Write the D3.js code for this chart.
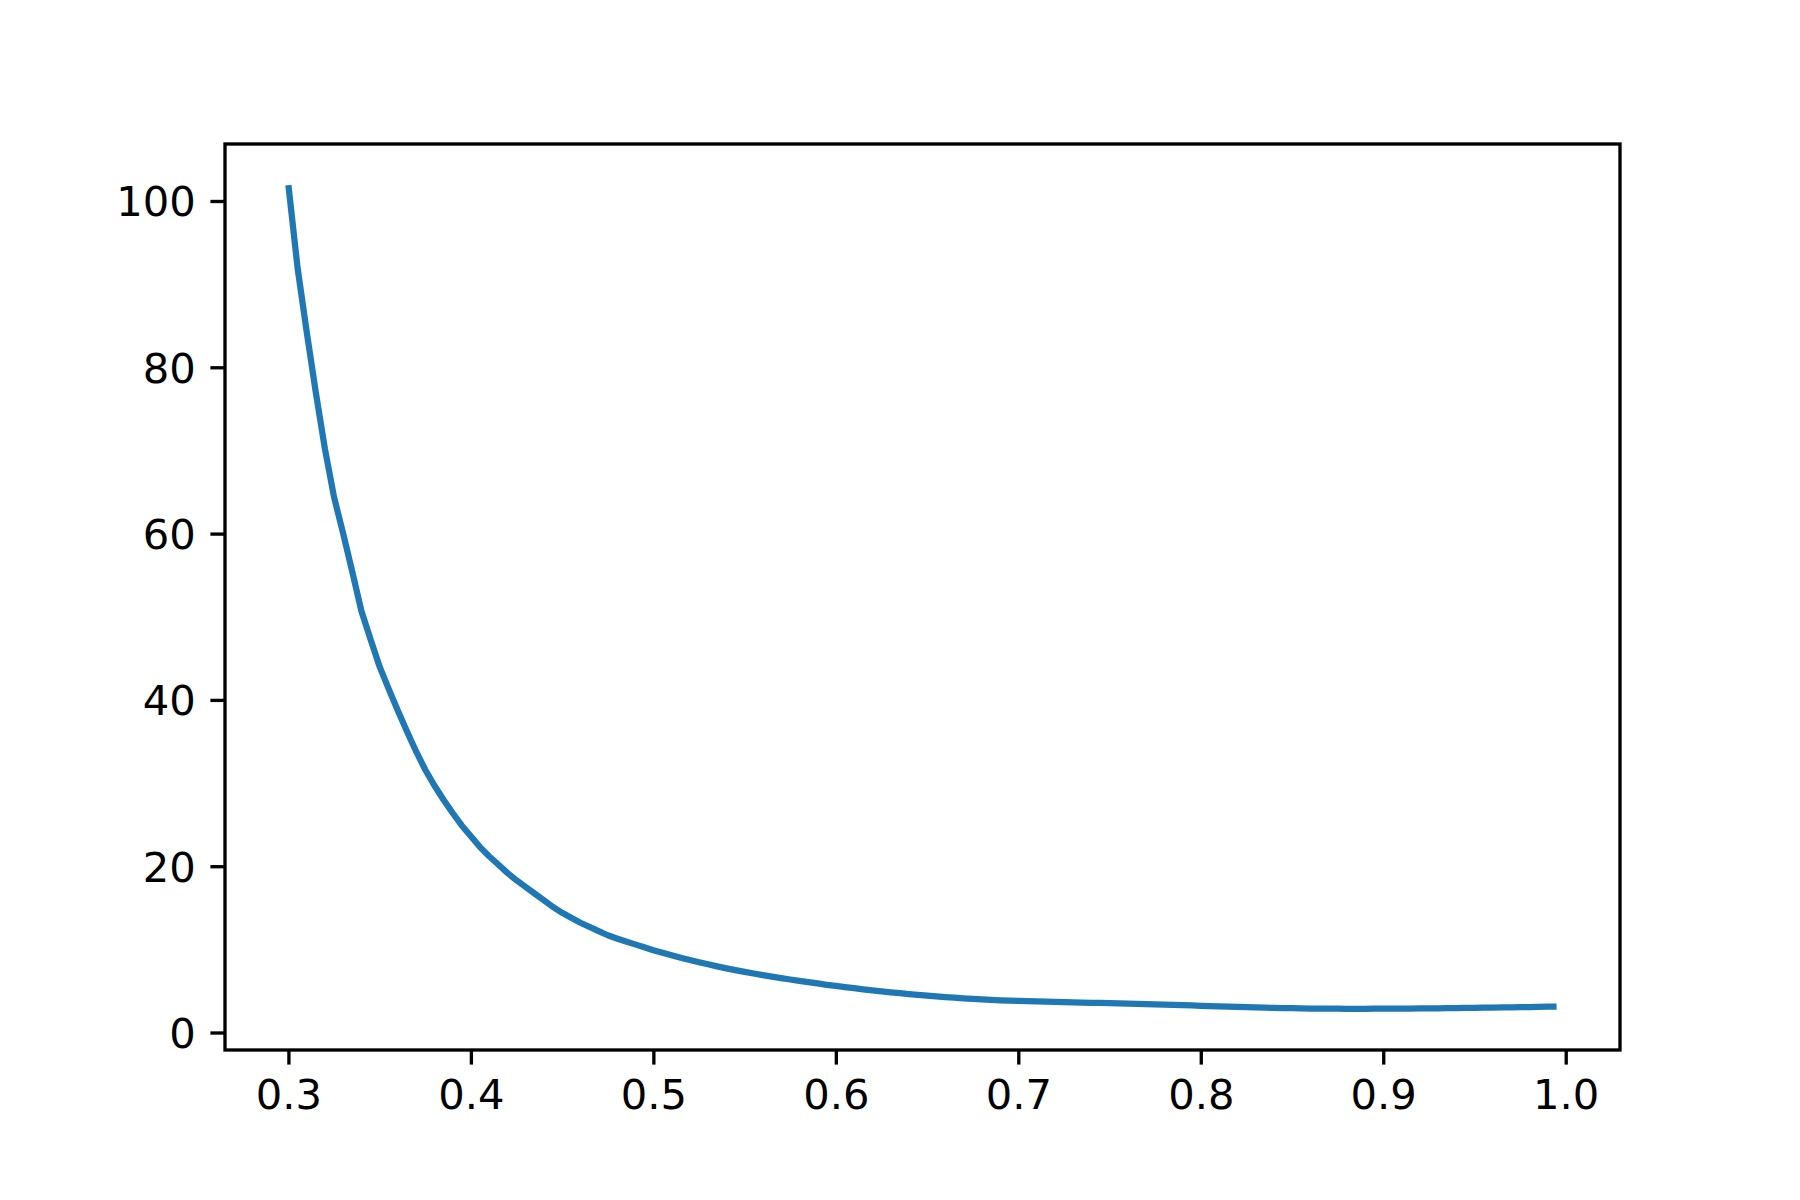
<!DOCTYPE html>
<html>
<head>
<meta charset="utf-8">
<script src="https://d3js.org/d3.v7.min.js"></script>
<style>
  html, body { margin: 0; padding: 0; background: #fff; }
  svg { display: block; }
  text { font-family: "DejaVu Sans", sans-serif; }
</style>
</head>
<body>
<svg id="chart" width="1800" height="1200"></svg>
<script>
const xValues = [
  0.300,0.305,0.310,0.315,0.320,0.325,0.330,0.335,0.340,0.345,
  0.350,0.355,0.360,0.365,0.370,0.375,0.380,0.385,0.390,0.395,
  0.400,0.405,0.410,0.415,0.420,0.425,0.430,0.435,0.440,0.445,
  0.450,0.455,0.460,0.465,0.470,0.475,0.480,0.485,0.490,0.495,
  0.500,0.505,0.510,0.515,0.520,0.525,0.530,0.535,0.540,0.545,
  0.550,0.555,0.560,0.565,0.570,0.575,0.580,0.585,0.590,0.595,
  0.600,0.605,0.610,0.615,0.620,0.625,0.630,0.635,0.640,0.645,
  0.650,0.655,0.660,0.665,0.670,0.675,0.680,0.685,0.690,0.695,
  0.700,0.705,0.710,0.715,0.720,0.725,0.730,0.735,0.740,0.745,
  0.750,0.755,0.760,0.765,0.770,0.775,0.780,0.785,0.790,0.795,
  0.800,0.805,0.810,0.815,0.820,0.825,0.830,0.835,0.840,0.845,
  0.850,0.855,0.860,0.865,0.870,0.875,0.880,0.885,0.890,0.895,
  0.900,0.905,0.910,0.915,0.920,0.925,0.930,0.935,0.940,0.945,
  0.950,0.955,0.960,0.965,0.970,0.975,0.980,0.985,0.990,0.995
];
const yValues = [
  101.9,92.0,84.3,77.0,70.2,64.4,60.0,55.4,50.7,47.3,
  44.0,41.3,38.7,36.2,33.8,31.6,29.7,28.0,26.4,24.9,
  23.6,22.3,21.2,20.2,19.2,18.3,17.5,16.7,15.9,15.1,
  14.4,13.8,13.2,12.7,12.2,11.7,11.3,10.95,10.6,10.25,
  9.9,9.6,9.3,9.0,8.72,8.46,8.2,7.95,7.72,7.5,
  7.3,7.1,6.9,6.72,6.55,6.38,6.22,6.06,5.9,5.74,
  5.6,5.46,5.33,5.2,5.07,4.95,4.84,4.73,4.63,4.53,
  4.44,4.35,4.27,4.19,4.12,4.05,3.98,3.92,3.87,3.83,
  3.80,3.77,3.74,3.71,3.68,3.65,3.62,3.60,3.57,3.55,
  3.52,3.50,3.47,3.44,3.41,3.38,3.35,3.32,3.28,3.25,
  3.21,3.18,3.14,3.11,3.08,3.05,3.02,2.99,2.96,2.94,
  2.92,2.90,2.88,2.87,2.86,2.86,2.85,2.85,2.85,2.86,
  2.86,2.87,2.87,2.88,2.89,2.90,2.91,2.92,2.93,2.95,
  2.96,2.98,2.99,3.01,3.03,3.04,3.06,3.08,3.10,3.12
];
const xTicks = [0.3, 0.4, 0.5, 0.6, 0.7, 0.8, 0.9, 1.0];
const xTickLabels = ["0.3", "0.4", "0.5", "0.6", "0.7", "0.8", "0.9", "1.0"];
const yTicks = [0, 20, 40, 60, 80, 100];
const yTickLabels = ["0", "20", "40", "60", "80", "100"];

const data = xValues.map((x, i) => ({ x: x, y: yValues[i] }));

const plotLeft = 225, plotRight = 1620, plotTop = 144, plotBottom = 1050;
const svg = d3.select("#chart");

const xMin = d3.min(xValues), xMax = d3.max(xValues);
const xPad = (xMax - xMin) * 0.05;
const yMin = d3.min(yValues), yMax = d3.max(yValues);
const yPad = (yMax - yMin) * 0.05;

const xScale = d3.scaleLinear().domain([xMin - xPad, xMax + xPad]).range([plotLeft, plotRight]);
const yScale = d3.scaleLinear().domain([yMin - yPad, yMax + yPad]).range([plotBottom, plotTop]);

const tickLen = 14.6, tickW = 3.33, pad = 14.6, fontSize = 41.67;

// line
const line = d3.line().x(d => xScale(d.x)).y(d => yScale(d.y));
svg.append("path")
  .datum(data)
  .attr("d", line)
  .attr("fill", "none")
  .attr("stroke", "#1f77b4")
  .attr("stroke-width", 6.25)
  .attr("stroke-linejoin", "round")
  .attr("stroke-linecap", "butt");

// x axis
const xAxis = d3.axisBottom(xScale)
  .tickValues(xTicks)
  .tickFormat((d, i) => xTickLabels[i])
  .tickSize(tickLen)
  .tickPadding(pad);
const gx = svg.append("g").attr("transform", `translate(0,${plotBottom})`).call(xAxis);
gx.select(".domain").remove();
gx.selectAll(".tick line").attr("stroke", "#000").attr("stroke-width", tickW);
gx.selectAll(".tick text")
  .attr("font-family", "DejaVu Sans")
  .attr("font-size", fontSize)
  .attr("fill", "#000")
  .attr("dy", "0.71em")
  .attr("y", tickLen + pad);

// y axis
const yAxis = d3.axisLeft(yScale)
  .tickValues(yTicks)
  .tickFormat((d, i) => yTickLabels[i])
  .tickSize(tickLen)
  .tickPadding(pad);
const gy = svg.append("g").attr("transform", `translate(${plotLeft},0)`).call(yAxis);
gy.select(".domain").remove();
gy.selectAll(".tick line").attr("stroke", "#000").attr("stroke-width", tickW);
gy.selectAll(".tick text")
  .attr("font-family", "DejaVu Sans")
  .attr("font-size", fontSize)
  .attr("fill", "#000")
  .attr("dy", "0.36em");

// spines
svg.append("rect")
  .attr("x", plotLeft).attr("y", plotTop)
  .attr("width", plotRight - plotLeft).attr("height", plotBottom - plotTop)
  .attr("fill", "none")
  .attr("stroke", "#000")
  .attr("stroke-width", 3.33);
</script>
</body>
</html>
